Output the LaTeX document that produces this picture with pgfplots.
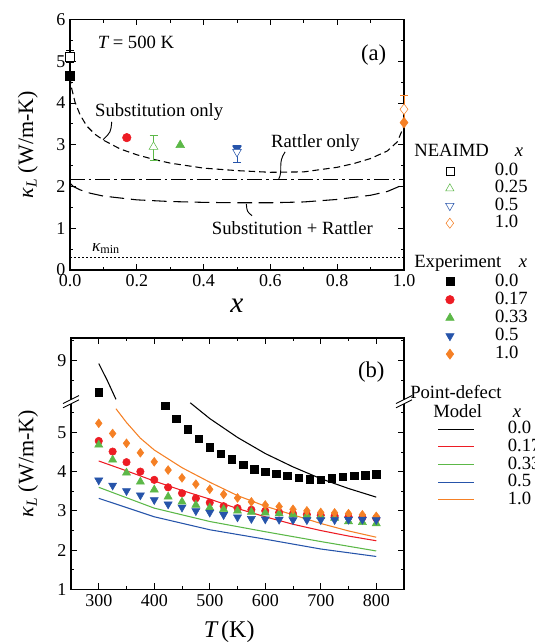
\documentclass[border=0pt]{standalone}
\usepackage{fontspec}
\setmainfont{Liberation Serif}
\usepackage{pgfplots}
\pgfplotsset{compat=1.18}

\definecolor{cred}{RGB}{237,28,36}
\definecolor{cgreen}{RGB}{92,184,72}
\definecolor{cblue}{RGB}{38,84,170}
\definecolor{corange}{RGB}{245,128,37}

\pgfplotsset{
  myax/.style={
    scale only axis, clip=false,
    tick align=inside,
    major tick length=4.5pt, minor tick length=2.5pt,
    every tick/.style={black, line width=0.6pt},
    axis line style={line width=0.8pt},
    /pgf/number format/assume math mode=true,
    ticklabel style={font=\fontsize{13.5}{14}\selectfont},
  },
  leg/.style={legend cell align=left,
    legend style={draw=none, fill=none, inner sep=0pt, anchor=north west,
      font=\fontsize{14}{14}\selectfont, row sep=0pt,
      nodes={inner sep=0pt, text height=#1, text depth=3.2pt}}},
}

\begin{document}
\begin{tikzpicture}
\useasboundingbox (0,0) rectangle (401.25pt,-481.5pt);

% ---------- panel (a)
\begin{axis}[myax, leg=9.8pt,
  at={(52.5pt,-202.5pt)}, anchor=south west, width=250.5pt, height=187.9pt,
  xmin=0, xmax=1, ymin=0, ymax=6,
  xtick={0,0.2,0.4,0.6,0.8,1}, minor x tick num=1,
  ytick={0,1,2,3,4,5,6}, minor y tick num=1,
  xticklabel style={/pgf/number format/.cd, fixed, fixed zerofill, precision=1},
  xlabel={\itshape x},
  xlabel style={font=\fontsize{22}{22}\selectfont, at={(axis description cs:0.5,-0.168)}, anchor=base},
  ylabel={{\itshape κ\textsubscript{L}} (W/m-K)},
  ylabel style={font=\fontsize{16.5}{17}\selectfont, at={(axis description cs:-0.126,0.5)}, anchor=center},
  legend style={at={(1.124,0.430)}, /tikz/every odd column/.append style={column sep=30.7pt}},
]
% model curves
\addplot[forget plot, black, line width=0.8pt, dash pattern=on 5pt off 3pt] coordinates {
 (0,4.62)(0.005,4.35)(0.015,4.02)(0.03,3.72)(0.05,3.45)(0.075,3.25)(0.1,3.11)
 (0.15,2.90)(0.2,2.76)(0.25,2.65)(0.3,2.56)(0.4,2.44)(0.5,2.38)(0.6,2.34)
 (0.7,2.35)(0.8,2.46)(0.85,2.55)(0.9,2.67)(0.95,2.85)(0.98,3.07)(1.0,3.45)};
\addplot[forget plot, black, line width=0.8pt, dash pattern=on 11pt off 3pt on 2pt off 3pt] coordinates {(0,2.16)(1,2.16)};
\addplot[forget plot, black, line width=0.8pt, dash pattern=on 11pt off 5pt] coordinates {
 (0,2.08)(0.01,2.0)(0.03,1.92)(0.06,1.84)(0.1,1.77)(0.2,1.68)(0.3,1.64)(0.4,1.62)
 (0.5,1.61)(0.6,1.61)(0.7,1.63)(0.8,1.69)(0.9,1.79)(0.95,1.88)(1.0,2.05)};
\addplot[forget plot, black, line width=0.8pt, dash pattern=on 1.5pt off 1.5pt] coordinates {(0,0.30)(1,0.30)};
% NEAIMD (open) and experiment (filled)
\addplot[forget plot, only marks, black, mark=square*, mark size=3.5pt, mark options={fill=white},
  error bars/.cd, y dir=both, y explicit, error bar style={black, line width=0.7pt},
  error mark options={rotate=90, black, mark size=3pt, line width=0.7pt}]
  coordinates {(0,5.11) +- (0,0.15)};
\addplot[forget plot, only marks, black, mark=square*, mark size=3.5pt] coordinates {(0,4.65)};
\addplot[forget plot, only marks, cred, mark=*, mark size=3.2pt] coordinates {(0.17,3.17)};
\addplot[forget plot, only marks, cgreen, mark=triangle*, mark size=3.8pt, mark options={fill=white},
  error bars/.cd, y dir=both, y explicit, error bar style={cgreen, line width=0.7pt},
  error mark options={rotate=90, cgreen, mark size=3pt, line width=0.7pt}]
  coordinates {(0.25,2.95) += (0,0.27) -= (0,0.33)};
\addplot[forget plot, only marks, cgreen, mark=triangle*, mark size=3.8pt] coordinates {(0.33,2.99)};
\addplot[forget plot, only marks, cblue, mark=triangle*, mark size=3.8pt, mark options={rotate=180}] coordinates {(0.5,2.91)};
\addplot[forget plot, only marks, cblue, mark=triangle*, mark size=3.8pt, mark options={rotate=180, fill=white},
  error bars/.cd, y dir=both, y explicit, error bar style={cblue, line width=0.7pt},
  error mark options={rotate=90, cblue, mark size=3pt, line width=0.7pt}]
  coordinates {(0.5,2.83) += (0,0.15) -= (0,0.25)};
\addplot[forget plot, only marks, corange, mark=diamond*, mark size=4pt, mark options={fill=white},
  error bars/.cd, y dir=both, y explicit, error bar style={corange, line width=0.7pt},
  error mark options={rotate=90, corange, mark size=3pt, line width=0.7pt}]
  coordinates {(1.0,3.85) +- (0,0.32)};
\addplot[forget plot, only marks, corange, mark=diamond*, mark size=4pt] coordinates {(1.0,3.53)};
% legend images (NEAIMD)
\addlegendimage{only marks, black, mark=square*, mark size=3pt, mark options={fill=white}}
\addlegendentry{0.0}
\addlegendimage{only marks, cgreen, mark=triangle*, mark size=3.6pt, mark options={fill=white}}
\addlegendentry{0.25}
\addlegendimage{only marks, cblue, mark=triangle*, mark size=3.6pt, mark options={rotate=180, fill=white}}
\addlegendentry{0.5}
\addlegendimage{only marks, corange, mark=diamond*, mark size=3.8pt, mark options={fill=white}}
\addlegendentry{1.0}
% annotations
\node[anchor=west, font=\fontsize{14}{14}\selectfont] at (axis cs:0.069,5.44) {{\itshape T} = 500 K};
\node[font=\fontsize{17}{17}\selectfont] at (axis cs:0.909,5.15) {(a)};
\node[font=\fontsize{14}{14}\selectfont] at (axis cs:0.267,3.78) {Substitution only};
\node[font=\fontsize{14}{14}\selectfont] at (axis cs:0.735,3.05) {Rattler only};
\node[font=\fontsize{14}{14}\selectfont] at (axis cs:0.666,1.0) {Substitution + Rattler};
\node[anchor=west, font=\fontsize{13}{13}\selectfont] at (axis cs:0.052,0.52) {{\itshape κ}\textsubscript{min}};
\draw[line width=0.7pt] (axis cs:0.125,3.55) .. controls (axis cs:0.122,3.3) .. (axis cs:0.099,3.12);
\draw[line width=0.7pt] (axis cs:0.644,2.83) .. controls (axis cs:0.62,2.55) and (axis cs:0.64,2.4) .. (axis cs:0.624,2.16);
\draw[line width=0.7pt] (axis cs:0.528,1.58) .. controls (axis cs:0.53,1.4) .. (axis cs:0.545,1.30);
\end{axis}

% ---------- experiment legend (shares panel (a) frame)
\begin{axis}[leg=10.4pt, scale only axis, hide axis,
  at={(52.5pt,-202.5pt)}, anchor=south west, width=250.5pt, height=187.9pt,
  xmin=0, xmax=1, ymin=0, ymax=1,
  legend style={at={(1.124,-0.009)}, /tikz/every odd column/.append style={column sep=30.7pt}},
]
\addlegendimage{only marks, black, mark=square*, mark size=3pt}
\addlegendentry{0.0}
\addlegendimage{only marks, cred, mark=*, mark size=3.2pt}
\addlegendentry{0.17}
\addlegendimage{only marks, cgreen, mark=triangle*, mark size=3.6pt}
\addlegendentry{0.33}
\addlegendimage{only marks, cblue, mark=triangle*, mark size=3.6pt, mark options={rotate=180}}
\addlegendentry{0.5}
\addlegendimage{only marks, corange, mark=diamond*, mark size=3.8pt}
\addlegendentry{1.0}
\end{axis}

% ---------- panel (b)  (values above the break are shifted down by 2.17)
\begin{axis}[myax, leg=10pt,
  at={(53.25pt,-442.1pt)}, anchor=south west, width=249.75pt, height=188.6pt,
  xmin=250, xmax=850, ymin=1, ymax=7.40,
  xtick={300,400,500,600,700,800}, minor x tick num=1,
  ytick={1,2,3,4,5,6.83}, yticklabels={1,2,3,4,5,9},
  minor ytick={1.5,2.5,3.5,4.5,5.5,6.33,7.33},
  xlabel={{\itshape T}\,(K)},
  xlabel style={font=\fontsize{18}{18}\selectfont, at={(axis description cs:0.475,-0.19)}, anchor=base},
  ylabel={{\itshape κ\textsubscript{L}} (W/m-K)},
  ylabel style={font=\fontsize{16.5}{17}\selectfont, at={(axis description cs:-0.129,0.5)}, anchor=center},
  legend style={at={(1.101,0.673)}, /tikz/every odd column/.append style={column sep=24.7pt}},
  legend image code/.code={\draw[#1] (0pt,0pt) -- (27pt,0pt);},
]
% point-defect model
\addplot[forget plot, black, line width=0.8pt] coordinates {(300,6.75)(315,6.33)(331,5.84)};
\addplot[forget plot, black, line width=0.8pt] coordinates {
 (465,5.75)(500,5.35)(550,4.87)(600,4.46)(650,4.12)(700,3.82)(750,3.57)(800,3.35)};
\addplot[forget plot, cred, line width=0.8pt] coordinates {
 (300,4.27)(350,4.02)(400,3.76)(450,3.52)(500,3.30)(550,3.06)(600,2.85)(650,2.66)(700,2.50)(750,2.36)(800,2.24)};
\addplot[forget plot, cgreen, line width=0.8pt] coordinates {
 (300,3.60)(400,3.07)(500,2.73)(600,2.47)(700,2.22)(800,1.98)};
\addplot[forget plot, cblue, line width=0.8pt] coordinates {
 (300,3.32)(400,2.85)(500,2.52)(600,2.28)(700,2.03)(800,1.84)};
\addplot[forget plot, corange, line width=0.8pt] coordinates {
 (331,5.60)(350,5.25)(375,4.85)(400,4.55)(450,4.10)(500,3.73)(550,3.39)(600,3.12)(650,2.90)(700,2.68)(750,2.49)(800,2.33)};
% experiment
\addplot[forget plot, only marks, black, mark=square*, mark size=2.8pt] coordinates {
 (300,6.02)(420,5.67)(440,5.34)(460,5.08)(480,4.83)(500,4.62)(520,4.45)(540,4.31)(560,4.17)(580,4.06)
 (600,4.00)(620,3.94)(640,3.89)(660,3.84)(680,3.81)(700,3.79)(720,3.83)(740,3.87)(760,3.89)(780,3.91)(800,3.93)};
\addplot[forget plot, only marks, cred, mark=*, mark size=2.8pt] coordinates {
 (300,4.78)(325,4.51)(350,4.24)(375,4.00)(400,3.79)(425,3.60)(450,3.45)(475,3.32)(500,3.21)(525,3.12)
 (550,3.07)(575,3.03)(600,3.00)(625,2.96)(650,2.93)(675,2.91)(700,2.89)(725,2.87)(750,2.85)(775,2.83)(800,2.81)};
\addplot[forget plot, only marks, cgreen, mark=triangle*, mark size=3.5pt] coordinates {
 (300,4.68)(325,4.30)(350,3.97)(375,3.74)(400,3.54)(425,3.36)(450,3.23)(475,3.15)(500,3.08)(525,3.04)
 (550,3.00)(575,2.97)(600,2.95)(625,2.93)(650,2.91)(675,2.88)(700,2.86)(725,2.82)(750,2.73)(775,2.71)(800,2.68)};
\addplot[forget plot, only marks, corange, mark=diamond*, mark size=3.3pt] coordinates {
 (300,5.23)(325,4.97)(350,4.72)(375,4.48)(400,4.25)(425,4.04)(450,3.84)(475,3.68)(500,3.55)(525,3.42)
 (550,3.33)(575,3.23)(600,3.15)(625,3.11)(650,3.04)(675,3.00)(700,2.96)(725,2.95)(750,2.93)(775,2.90)(800,2.86)};
\addplot[forget plot, only marks, cblue, mark=triangle*, mark size=3.5pt, mark options={rotate=180}] coordinates {
 (300,3.78)(325,3.65)(350,3.51)(375,3.40)(400,3.28)(425,3.17)(450,3.09)(475,3.00)(500,2.96)(525,2.90)
 (550,2.84)(575,2.80)(600,2.79)(625,2.78)(650,2.77)(675,2.77)(700,2.77)(725,2.77)(750,2.78)(775,2.78)(800,2.77)};
\addlegendimage{black, line width=0.8pt}\addlegendentry{0.0}
\addlegendimage{cred, line width=0.8pt}\addlegendentry{0.17}
\addlegendimage{cgreen, line width=0.8pt}\addlegendentry{0.33}
\addlegendimage{cblue, line width=0.8pt}\addlegendentry{0.5}
\addlegendimage{corange, line width=0.8pt}\addlegendentry{1.0}
\node[font=\fontsize{17}{17}\selectfont] at (axis cs:791,6.54) {(b)};
\coordinate (brkL) at (axis cs:250,5.78);
\coordinate (brkR) at (axis cs:850,5.78);
\end{axis}

% axis breaks
\foreach \c in {brkL,brkR}{
  \fill[white] ([xshift=-1.5pt,yshift=-1.6pt]\c) rectangle ([xshift=1.5pt,yshift=1.6pt]\c);
  \draw[line width=0.7pt] ([xshift=-6pt,yshift=-4.6pt]\c) -- ([xshift=6pt,yshift=1.4pt]\c);
  \draw[line width=0.7pt] ([xshift=-6pt,yshift=-1.4pt]\c) -- ([xshift=6pt,yshift=4.6pt]\c);
}

% legend headers
\begin{scope}[x=0.75pt, y=-0.75pt, font=\fontsize{14}{14}\selectfont]
\node[anchor=base west, inner sep=0pt] at (414,156) {NEAIMD};
\node[anchor=base, inner sep=0pt] at (519,156) {\itshape x};
\node[anchor=base west, inner sep=0pt] at (414,267.5) {Experiment};
\node[anchor=base, inner sep=0pt] at (523,267.5) {\itshape x};
\node[anchor=base west, inner sep=0pt] at (410,398) {Point-defect};
\node[anchor=base west, inner sep=0pt] at (433,417) {Model};
\node[anchor=base, inner sep=0pt] at (517,417) {\itshape x};
\end{scope}
\end{tikzpicture}
\end{document}
